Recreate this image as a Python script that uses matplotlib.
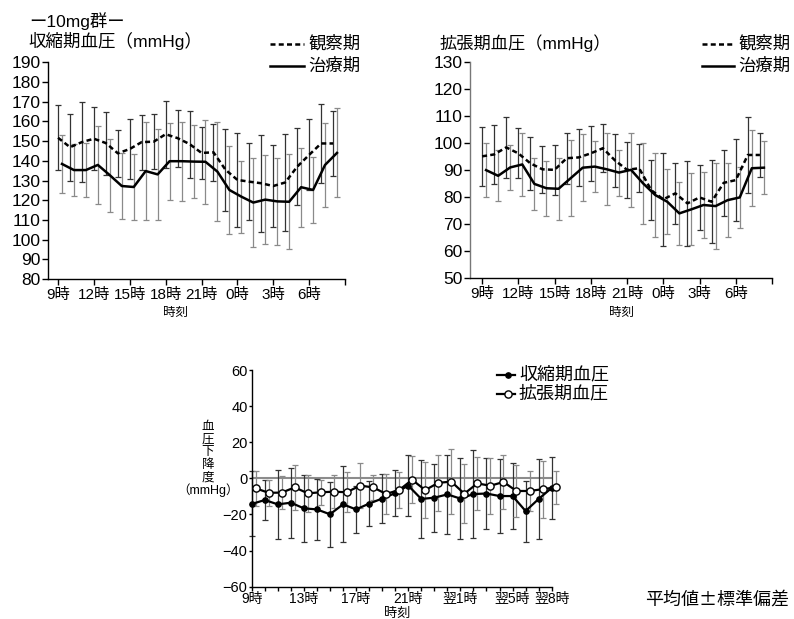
import matplotlib

matplotlib.use("Agg")
import matplotlib.pyplot as plt
from matplotlib.lines import Line2D

plt.rcParams["font.family"] = ["Liberation Sans", "Noto Sans CJK JP"]

W, H = 794, 619

# hour of day, 9 = 9:00, 32 = 8:00 next morning
HOURS = [9, 10, 11, 12, 13, 14, 15, 16, 17, 18, 19, 20,
         21, 22, 23, 24, 25, 26, 27, 28, 29, 30, 31, 32]

# systolic pressure, observation period (mean, SD)
sys_obs = [151.7, 146.9, 149.5, 151.2, 149.0, 143.8, 146.0, 149.5, 149.7, 153.5, 151.5, 148.5,
           144.0, 144.3, 135.5, 130.3, 129.4, 128.6, 127.2, 129.0, 137.0, 143.0, 148.8, 148.8]
sys_obs_sd = [16.5, 17.0, 20.5, 16.0, 16.0, 12.0, 15.0, 14.0, 14.0, 17.0, 14.5, 17.0,
              13.0, 14.3, 20.8, 23.7, 19.4, 24.5, 20.9, 24.5, 19.5, 18.0, 20.0, 16.7]
# systolic pressure, treatment period
sys_trt = [138.4, 135.3, 135.3, 137.9, 132.7, 127.2, 126.7, 134.8, 133.1, 139.8, 139.8, 139.6,
           139.5, 134.5, 125.2, 121.8, 118.8, 120.3, 119.4, 119.2, 126.6, 125.2, 137.9, 144.0]
sys_trt_sd = [14.5, 13.0, 13.7, 19.9, 18.6, 16.8, 16.5, 25.0, 23.0, 19.5, 20.0, 18.6,
              21.3, 25.0, 22.3, 18.2, 22.4, 22.4, 22.0, 24.0, 20.0, 16.7, 21.4, 22.6]

# diastolic pressure, observation period
dia_obs = [95.0, 95.7, 98.3, 96.1, 92.4, 90.2, 90.0, 94.3, 94.6, 96.1, 98.0, 93.5,
           90.0, 90.6, 82.5, 79.1, 81.3, 77.6, 79.8, 78.2, 85.2, 86.2, 95.5, 95.5]
dia_obs_sd = [10.8, 11.0, 11.3, 9.2, 9.8, 8.8, 9.2, 9.4, 10.5, 10.3, 8.8, 9.9,
              10.3, 8.8, 11.0, 17.2, 11.3, 15.8, 12.1, 15.4, 12.1, 15.2, 13.9, 8.3]
# diastolic pressure, treatment period
dia_trt = [89.9, 87.8, 90.9, 92.0, 84.8, 83.2, 83.0, 86.9, 90.8, 91.2, 90.2, 89.0,
           90.0, 85.0, 80.7, 78.2, 73.9, 75.4, 77.0, 76.6, 78.8, 79.8, 90.6, 90.8]
dia_trt_sd = [10.0, 9.5, 8.2, 11.7, 9.7, 10.2, 11.4, 14.0, 12.4, 9.4, 13.3, 8.5,
              13.8, 15.0, 15.7, 12.0, 11.7, 13.3, 12.3, 15.8, 13.7, 11.2, 14.0, 9.8]

# pressure drop (treatment - observation)
sys_drop = [-14.2, -12.0, -14.4, -13.5, -16.6, -17.2, -19.9, -14.4, -17.2, -14.0, -11.2, -8.2,
            -4.0, -11.4, -10.7, -8.9, -11.2, -8.7, -8.4, -9.8, -9.8, -18.1, -11.4, -5.3]
sys_drop_sd = [18.0, 11.3, 19.0, 19.5, 18.6, 17.0, 18.0, 21.0, 13.0, 12.5, 13.6, 12.7,
               16.8, 21.4, 18.9, 22.0, 22.3, 24.5, 19.4, 20.6, 18.2, 16.9, 22.2, 17.0]
dia_drop = [-5.5, -8.0, -7.9, -5.0, -8.3, -7.7, -7.4, -7.7, -4.0, -5.0, -8.6, -6.5,
            -0.8, -6.5, -2.5, -1.8, -8.5, -2.8, -4.1, -2.0, -7.0, -7.0, -6.0, -5.0]
dia_drop_sd = [9.6, 7.2, 9.0, 12.5, 10.1, 7.0, 9.2, 11.0, 12.5, 7.0, 11.0, 10.0,
               13.1, 15.6, 15.5, 17.8, 16.2, 14.5, 15.5, 14.8, 14.4, 11.1, 15.7, 9.0]

TOP_TICKS = [9, 12, 15, 18, 21, 24, 27, 30, 33]
TOP_LABELS = ["9時", "12時", "15時", "18時", "21時", "0時", "3時", "6時", ""]
BOT_TICKS = [9, 13, 17, 21, 25, 29, 32]
BOT_LABELS = ["9時", "13時", "17時", "21時", "翌1時", "翌5時", "翌8時"]

SHIFT = 0.33  # second series drawn slightly right of the first

OBS_STYLE = {"color": "black", "lw": 1.8, "dashes": (2.0, 1.3)}
TRT_STYLE = {"color": "black", "lw": 1.8}
SYS_STYLE = {"color": "black", "lw": 1.6, "marker": "o", "ms": 3.8, "mfc": "black", "mec": "black"}
DIA_STYLE = {"color": "black", "lw": 1.6, "marker": "o", "ms": 5.2, "mfc": "white", "mec": "black", "mew": 1.0}
BAR_DARK = {"ecolor": "#333333", "elinewidth": 0.9, "capsize": 2.2, "capthick": 0.9}
BAR_LIGHT = {"ecolor": "#8a8a8a", "elinewidth": 0.9, "capsize": 2.2, "capthick": 0.9}


def fx(x):
    return x / W


def fy(y):
    return 1 - y / H


def add_axes_px(fig, left, top, right, bottom):
    return fig.add_axes([fx(left), fy(bottom), (right - left) / W, (bottom - top) / H])


def style_axis(ax, spine_color="black"):
    for side in ("top", "right"):
        ax.spines[side].set_visible(False)
    ax.spines["left"].set_color(spine_color)
    ax.spines["left"].set_linewidth(1.0)
    ax.spines["bottom"].set_linewidth(1.0)


def bp_panel(ax, obs, obs_sd, trt, trt_sd, ylim):
    x2 = [h + SHIFT for h in HOURS]
    ax.errorbar(HOURS, obs, yerr=obs_sd, fmt="none", zorder=2, **BAR_DARK)
    ax.errorbar(x2, trt, yerr=trt_sd, fmt="none", zorder=2, **BAR_LIGHT)
    ax.plot(HOURS, obs, zorder=3, **OBS_STYLE)
    ax.plot(x2, trt, zorder=3, **TRT_STYLE)
    ax.set_ylim(*ylim)
    ax.set_yticks(range(ylim[0], ylim[1] + 1, 10))
    ax.set_xticks(TOP_TICKS)
    ax.set_xticklabels(TOP_LABELS)
    ax.tick_params(axis="y", length=4, width=1, pad=1.5, labelsize=12.5)
    ax.tick_params(axis="x", length=4, width=1, pad=2.5, labelsize=11)


def legend_row(fig, x0, x1, y, text, size, style, marker_x=None):
    line_kw = {k: v for k, v in style.items() if k not in ("marker", "ms", "mfc", "mec", "mew")}
    fig.add_artist(Line2D([fx(x0), fx(x1)], [fy(y), fy(y)], transform=fig.transFigure, **line_kw))
    if marker_x is not None:
        mark_kw = {k: v for k, v in style.items() if k in ("marker", "ms", "mfc", "mec", "mew")}
        fig.add_artist(Line2D([fx(marker_x)], [fy(y)], transform=fig.transFigure,
                              linestyle="none", **mark_kw))
    fig.text(fx(x1 + 4), fy(y), text, fontsize=size, ha="left", va="center")


fig = plt.figure(figsize=(W / 100, H / 100), dpi=100)
fig.patch.set_facecolor("white")

# systolic panel
ax1 = add_axes_px(fig, 48, 62.3, 345, 279)
bp_panel(ax1, sys_obs, sys_obs_sd, sys_trt, sys_trt_sd, (80, 190))
ax1.set_xlim(8.16, 33)
style_axis(ax1)

# diastolic panel
ax2 = add_axes_px(fig, 470, 61.7, 772, 278)
bp_panel(ax2, dia_obs, dia_obs_sd, dia_trt, dia_trt_sd, (50, 130))
ax2.set_xlim(8.0, 33)
style_axis(ax2, spine_color="#777777")

fig.text(fx(29), fy(21.5), "ー10mg群ー", fontsize=12.5, ha="left", va="center")
fig.text(fx(28), fy(41), "収縮期血圧（mmHg）", fontsize=12.6, ha="left", va="center")
fig.text(fx(440), fy(43), "拡張期血圧（mmHg）", fontsize=12.4, ha="left", va="center")
fig.text(fx(176), fy(313), "時刻", fontsize=9, ha="center", va="center")
fig.text(fx(622), fy(313), "時刻", fontsize=9, ha="center", va="center")

legend_row(fig, 270, 304, 43.5, "観察期", 12.5, OBS_STYLE)
legend_row(fig, 270, 304, 65.7, "治療期", 12.5, TRT_STYLE)
legend_row(fig, 702, 734, 43.5, "観察期", 12.5, OBS_STYLE)
legend_row(fig, 702, 734, 65.7, "治療期", 12.5, TRT_STYLE)

# pressure drop panel
ax3 = add_axes_px(fig, 251.7, 370, 551.7, 586.7)
x_open = [h + 0.3 for h in HOURS]
ax3.axhline(0, color="#8c8c8c", lw=1.5, zorder=1)
ax3.errorbar(HOURS, sys_drop, yerr=sys_drop_sd, fmt="none", zorder=2, clip_on=False, **BAR_DARK)
ax3.errorbar(x_open, dia_drop, yerr=dia_drop_sd, fmt="none", zorder=2, clip_on=False, **BAR_LIGHT)
ax3.plot(HOURS, sys_drop, zorder=3, clip_on=False, **SYS_STYLE)
ax3.plot(x_open, dia_drop, zorder=4, clip_on=False, **DIA_STYLE)
ax3.set_xlim(9, 32)
ax3.set_ylim(-60, 60)
ax3.set_yticks(range(-60, 61, 20))
ax3.set_xticks(BOT_TICKS)
ax3.set_xticklabels(BOT_LABELS)
ax3.set_xticks(HOURS, minor=True)
ax3.tick_params(axis="y", length=2.5, width=1, pad=0.5, labelsize=10.5)
ax3.tick_params(axis="x", which="both", length=3, width=1, pad=0.5, labelsize=10)
style_axis(ax3)

legend_row(fig, 497, 515, 375, "収縮期血圧", 13, SYS_STYLE, marker_x=508)
legend_row(fig, 497, 515, 394, "拡張期血圧", 13, DIA_STYLE, marker_x=508)

# vertical y label of the drop panel
for i, ch in enumerate("血圧下降度"):
    fig.text(fx(208), fy(427 + i * 12.6), ch, fontsize=9, ha="center", va="center")
fig.text(fx(239), fy(490), "（mmHg）", fontsize=9, ha="right", va="center")
fig.text(fx(397), fy(614), "時刻", fontsize=9.5, ha="center", va="center")
fig.text(fx(645), fy(600), "平均値±標準偏差", fontsize=13, ha="left", va="center",
         family=["Noto Sans CJK JP"])

fig.savefig("out.png", dpi=100)
